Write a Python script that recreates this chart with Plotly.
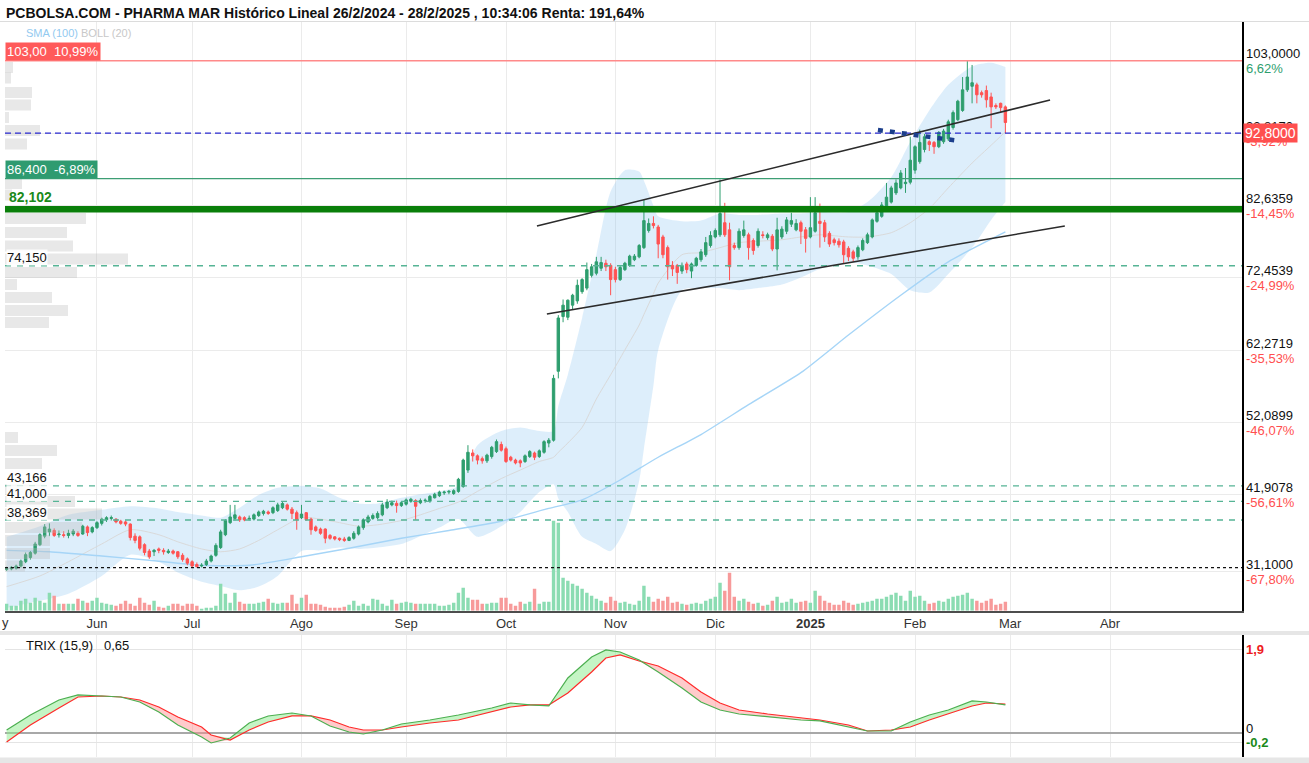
import plotly.graph_objects as go

W, H = 1309, 763

# ---------------- data (trading-day index: 0 = 3 Jun 2024) ----------------
day_index = list(range(-19, 192))

opens = [
    31.4, 31.5, 31.6, 31.9, 32.5, 33.1, 33.7, 34.9, 36.1, 36.7,
    36.9, 36.3, 36.3, 36.2, 36.4, 36.5, 36.4, 37.4, 36.7, 37.3,
    37.9, 38.4, 38.6, 38.5, 38.2, 38.1, 37.8, 36.1, 36.0, 34.9,
    34.0, 33.9, 34.3, 34.1, 33.8, 34.0, 33.9, 33.4, 32.9, 32.5,
    32.1, 31.9, 32.1, 32.6, 33.4, 34.5, 36.3, 38.0, 38.6, 38.8,
    38.7, 38.5, 38.5, 39.0, 39.3, 39.5, 39.4, 39.7, 40.1, 40.5,
    39.9, 39.4, 38.7, 39.4, 38.5, 37.4, 37.1, 37.1, 36.2, 36.0,
    35.8, 35.7, 35.5, 35.8, 36.4, 37.3, 38.1, 38.6, 38.7, 39.1,
    40.1, 40.5, 40.7, 40.4, 40.6, 41.0, 41.1, 40.8, 41.1, 41.0,
    41.5, 41.8, 42.2, 42.3, 42.1, 42.4, 43.1, 45.4, 47.8, 47.4,
    47.0, 46.7, 47.3, 48.0, 49.0, 48.4, 47.2, 46.8, 46.7, 46.6,
    47.3, 47.8, 47.3, 47.9, 49.2, 49.6, 59.3, 67.0, 66.9, 68.6,
    69.2, 70.5, 71.0, 72.8, 73.1, 73.8, 74.5, 74.2, 73.6, 72.2,
    73.6, 74.2, 75.0, 75.4, 76.7, 79.1, 80.1, 79.6, 78.2, 76.7,
    74.2, 74.2, 73.4, 74.4, 73.4, 74.2, 75.0, 75.7, 77.0, 78.2,
    78.5, 80.2, 79.2, 77.0, 76.7, 78.4, 78.5, 77.7, 77.0, 78.5,
    78.1, 78.3, 76.5, 78.2, 79.0, 80.0, 79.2, 80.2, 79.2, 78.2,
    79.0, 80.4, 80.2, 78.7, 77.8, 77.6, 77.5, 76.6, 76.1, 75.4,
    76.4, 77.4, 78.2, 80.4, 81.1, 82.1, 83.1, 84.4, 85.1, 85.7,
    85.9, 87.6, 88.8, 90.5, 91.6, 91.5, 90.9, 91.6, 92.0, 93.6,
    94.7, 96.0, 98.9, 99.4, 99.6, 98.5, 98.8, 97.9, 96.7, 97.0,
    96.5]

highs = [
    31.8, 31.9, 32.1, 32.8, 33.8, 34.0, 35.3, 36.5, 37.8, 37.9,
    37.2, 36.9, 36.8, 37.0, 37.1, 36.8, 37.7, 37.6, 37.5, 38.2,
    38.7, 38.9, 39.0, 38.6, 38.4, 38.3, 37.9, 36.5, 36.2, 35.1,
    34.3, 34.3, 34.5, 34.4, 34.3, 34.2, 34.0, 33.7, 33.1, 32.7,
    32.4, 32.3, 32.9, 33.5, 35.1, 37.0, 38.5, 40.5, 40.5, 39.0,
    38.9, 39.0, 39.3, 39.7, 39.8, 39.7, 40.3, 40.8, 40.9, 40.7,
    40.2, 39.7, 40.5, 39.5, 38.7, 37.6, 37.3, 37.2, 36.4, 36.1,
    35.9, 36.0, 36.1, 36.8, 37.6, 38.6, 39.1, 39.3, 39.6, 40.8,
    41.3, 41.1, 41.1, 41.0, 41.4, 41.5, 41.3, 41.4, 41.4, 41.9,
    42.2, 42.5, 42.5, 42.6, 42.7, 44.3, 47.0, 48.9, 48.3, 47.6,
    47.3, 47.7, 48.8, 49.7, 49.4, 48.7, 47.4, 47.0, 46.9, 47.6,
    48.2, 48.0, 48.3, 49.6, 49.9, 58.8, 67.2, 69.4, 69.4, 70.2,
    72.2, 72.4, 74.6, 74.4, 75.4, 75.4, 75.0, 74.5, 74.0, 74.2,
    74.7, 75.7, 75.8, 77.2, 83.4, 80.8, 81.1, 79.9, 78.5, 77.0,
    74.8, 74.4, 74.6, 74.7, 74.6, 75.4, 76.5, 78.2, 79.0, 79.4,
    86.3, 83.0, 80.2, 77.4, 79.4, 80.5, 78.8, 78.0, 79.4, 79.0,
    78.8, 78.6, 80.9, 79.7, 81.0, 81.6, 80.7, 80.5, 79.6, 83.8,
    83.8, 82.9, 80.6, 79.0, 78.1, 78.0, 77.8, 76.9, 76.4, 77.0,
    78.0, 78.8, 80.8, 82.0, 83.1, 85.8, 85.4, 86.3, 87.6, 87.9,
    92.3, 91.1, 93.3, 92.7, 91.8, 91.7, 93.1, 93.4, 94.7, 96.0,
    97.5, 100.7, 103.0, 102.4, 99.9, 98.8, 99.5, 98.5, 97.0, 97.1,
    96.7]

lows = [
    31.2, 31.3, 31.4, 31.7, 32.3, 32.8, 33.5, 34.7, 35.8, 36.1,
    36.0, 35.9, 35.9, 35.8, 36.1, 36.0, 36.3, 36.1, 36.5, 37.1,
    37.6, 38.1, 38.3, 37.9, 37.7, 37.5, 35.5, 35.1, 34.1, 33.4,
    32.9, 33.3, 33.7, 33.5, 33.6, 33.5, 32.9, 32.5, 32.0, 31.7,
    31.7, 31.7, 31.9, 32.4, 33.2, 34.3, 36.1, 37.8, 38.3, 38.1,
    38.2, 38.3, 38.3, 38.8, 39.0, 39.1, 39.2, 39.5, 39.9, 39.7,
    38.5, 37.0, 38.5, 38.3, 36.3, 36.7, 36.3, 35.1, 35.6, 35.5,
    35.4, 35.3, 35.4, 35.6, 36.2, 37.0, 37.9, 38.4, 38.5, 38.9,
    39.9, 40.3, 39.4, 40.2, 40.4, 40.8, 38.4, 40.6, 40.8, 40.8,
    41.4, 41.6, 41.9, 42.0, 41.9, 42.2, 42.9, 45.0, 46.6, 46.2,
    46.3, 46.4, 47.0, 47.8, 48.0, 46.4, 46.6, 46.2, 45.8, 46.4,
    47.1, 46.8, 47.1, 47.7, 48.6, 49.4, 58.3, 66.2, 66.5, 68.0,
    68.8, 70.2, 70.7, 72.5, 72.8, 73.4, 73.4, 70.0, 71.8, 72.0,
    73.4, 74.0, 74.8, 75.2, 76.5, 78.8, 79.4, 75.2, 75.2, 72.2,
    72.7, 71.6, 73.0, 73.1, 72.4, 74.0, 74.7, 75.4, 76.7, 78.0,
    78.2, 78.2, 72.1, 76.4, 76.4, 78.1, 75.0, 75.7, 76.7, 78.0,
    77.8, 76.2, 73.5, 77.9, 78.6, 79.6, 79.0, 77.2, 76.0, 78.0,
    78.8, 76.7, 77.5, 76.8, 77.0, 76.7, 74.4, 74.8, 74.7, 75.0,
    76.2, 77.2, 78.0, 80.2, 80.9, 81.9, 82.9, 84.1, 84.9, 84.4,
    85.6, 87.1, 88.5, 90.1, 90.3, 89.9, 90.7, 91.3, 91.7, 93.3,
    94.5, 95.8, 98.6, 97.0, 97.0, 97.8, 96.4, 93.5, 96.2, 95.8,
    92.8]

closes = [
    31.6, 31.7, 31.9, 32.6, 33.5, 33.8, 35.0, 36.3, 37.4, 37.1,
    36.2, 36.4, 36.2, 36.5, 36.8, 36.2, 37.5, 36.6, 37.3, 38.0,
    38.5, 38.7, 38.7, 38.1, 37.9, 37.8, 35.9, 35.5, 34.4, 33.8,
    33.2, 34.1, 34.1, 33.9, 34.0, 33.7, 33.2, 32.8, 32.3, 31.9,
    31.8, 32.0, 32.6, 33.3, 34.8, 36.7, 38.3, 38.8, 39.1, 38.4,
    38.4, 38.6, 39.1, 39.5, 39.6, 39.3, 40.1, 40.5, 40.7, 39.9,
    39.3, 38.4, 39.2, 38.4, 37.0, 36.9, 36.5, 35.8, 35.8, 35.7,
    35.6, 35.5, 35.9, 36.5, 37.4, 38.4, 38.8, 39.0, 39.3, 40.5,
    40.9, 40.8, 40.4, 40.8, 41.2, 41.3, 40.3, 41.1, 41.15, 41.7,
    42.0, 42.3, 42.3, 42.4, 42.5, 44.1, 46.8, 47.9, 47.4, 46.8,
    46.7, 47.5, 48.6, 49.4, 48.2, 46.6, 46.8, 46.4, 46.4, 47.4,
    48.0, 47.2, 48.1, 49.4, 49.6, 58.3, 66.8, 68.6, 69.3, 70.0,
    71.4, 72.2, 73.6, 74.0, 74.7, 74.6, 74.0, 72.2, 72.2, 73.9,
    74.5, 75.5, 75.5, 77.0, 80.5, 80.1, 79.8, 77.2, 75.7, 74.0,
    73.7, 73.2, 74.2, 73.6, 74.4, 75.2, 76.1, 77.4, 78.4, 79.1,
    81.5, 78.5, 74.0, 76.7, 79.0, 79.2, 76.7, 76.3, 79.0, 78.4,
    78.5, 76.5, 79.2, 79.3, 80.6, 80.5, 80.1, 79.0, 78.0, 79.5,
    81.6, 80.1, 78.2, 77.2, 77.4, 77.1, 75.7, 75.4, 75.2, 76.7,
    77.7, 78.5, 80.6, 81.6, 82.7, 83.8, 85.1, 85.8, 87.2, 85.9,
    89.0, 90.9, 91.5, 92.3, 91.2, 90.9, 92.9, 93.1, 94.4, 95.7,
    97.3, 98.9, 100.7, 99.9, 98.2, 98.2, 97.5, 96.5, 96.5, 96.4,
    94.3]

volumes = [
    7, 5, 5, 10, 12, 8, 13, 10, 8, 18,
    15, 7, 7, 7, 7, 12, 10, 8, 10, 13,
    8, 7, 6, 5, 7, 10, 7, 5, 13, 8,
    6, 10, 4, 3, 5, 7, 7, 5, 7, 7,
    5, 2, 3, 3, 5, 27, 17, 8, 18, 9,
    7, 7, 7, 8, 9, 12, 8, 7, 8, 8,
    16, 7, 13, 16, 7, 7, 6, 4, 3, 3,
    3, 4, 6, 10, 5, 7, 5, 12, 11, 7,
    5, 11, 7, 8, 9, 8, 7, 7, 7, 7,
    7, 5, 5, 6, 8, 18, 23, 13, 11, 11,
    7, 7, 8, 8, 13, 13, 7, 5, 9, 7,
    9, 22, 7, 9, 9, 90, 88, 33, 30, 27,
    25, 22, 18, 15, 12, 10, 8, 14, 10, 8,
    9, 7, 6, 10, 25, 14, 9, 12, 10, 14,
    8, 9, 7, 6, 7, 8, 7, 10, 12, 14,
    28, 20, 38, 14, 10, 12, 9, 7, 8, 5,
    6, 10, 14, 8, 9, 12, 8, 9, 10, 8,
    20, 15, 10, 8, 6, 6, 10, 8, 6, 7,
    8, 9, 10, 12, 12, 14, 16, 18, 15, 10,
    20, 14, 15, 10, 7, 8, 10, 9, 12, 14,
    15, 16, 18, 12, 10, 8, 10, 12, 6, 7,
    9]

month_idx = [0, 20, 43, 65, 86, 109, 130, 150, 172, 192, 213]
month_lbl = ["Jun", "Jul", "Ago", "Sep", "Oct", "Nov", "Dic", "<b>2025</b>", "Feb", "Mar", "Abr"]

sma_idx = [-19, -10, 1, 11, 22, 32, 43, 53, 64, 74, 85, 95, 102, 110, 118, 127, 137, 148, 158, 169, 179, 191]
sma100 = [34.1, 33.9, 33.3, 32.7, 32.0, 32.0, 33.2, 34.4, 35.8, 36.9, 38.2, 40.0, 41.2, 44.0,
          47.2, 50.4, 54.6, 59.1, 64.4, 70.0, 74.7, 78.9]

boll_idx = [-19, -12, -6, 1, 7, 13, 17, 22, 26, 30, 34, 38, 43, 47, 51, 55, 59, 64, 68, 72, 76,
            80, 85, 89, 93, 96, 97, 99, 102, 105, 108, 111, 114, 115, 117, 118, 123, 127, 131,
            135, 139, 144, 148, 152, 158, 162, 167, 171, 175, 179, 184, 188, 191]
boll_up = [36.0, 37.5, 39.1, 39.8, 40.3, 40.0, 39.5, 39.0, 38.7, 40.1, 41.9, 42.9, 43.2, 42.8,
           41.5, 40.7, 40.7, 41.5, 42.0, 42.4, 43.2, 48.9, 50.9, 51.4, 50.9, 50.9, 54.4, 58.8,
           66.8, 75.7, 84.6, 87.6, 87.4, 86.1, 82.6, 81.1, 80.4, 80.5, 81.5, 81.3, 81.3, 81.5,
           81.5, 81.7, 81.7, 83.1, 86.6, 91.6, 96.0, 99.6, 102.2, 102.7, 102.1]
boll_mid = [29.0, 30.5, 32.5, 35.0, 37.0, 36.3, 35.3, 34.3, 33.9, 34.3, 35.5, 37.0, 38.7, 38.5,
            38.0, 37.5, 37.7, 38.3, 39.1, 40.0, 40.9, 42.4, 44.2, 45.4, 46.6, 47.2, 47.9, 49.2,
            51.4, 55.4, 58.8, 62.3, 65.8, 67.3, 70.2, 71.7, 75.7, 76.0, 76.7, 77.4, 77.6, 77.8,
            78.2, 78.5, 78.2, 78.2, 78.8, 80.2, 82.2, 85.1, 88.6, 91.1, 93.0]
boll_lo = [26.0, 27.0, 28.0, 30.5, 33.5, 32.5, 31.0, 29.7, 29.1, 28.5, 29.0, 30.5, 34.0, 34.1,
           34.5, 34.3, 34.5, 35.0, 36.1, 37.3, 38.5, 36.0, 37.5, 39.5, 42.3, 43.4, 41.4, 39.5,
           36.0, 35.0, 34.0, 37.0, 43.9, 48.4, 57.3, 62.3, 70.7, 71.0, 71.0, 70.7, 71.0, 71.5,
           72.5, 73.7, 74.6, 74.2, 73.0, 70.7, 70.4, 73.0, 76.7, 80.6, 83.1]

trix_idx = [-19, -14, -8, -4, 1, 5, 9, 13, 17, 22, 24, 28, 32, 36, 41, 45, 49, 53, 56, 60, 64,
            70, 76, 83, 87, 91, 95, 99, 104, 107, 110, 114, 118, 123, 127, 131, 135, 141, 148,
            152, 158, 162, 167, 171, 175, 179, 184, 187, 191]
trix = [0.075, 0.417, 0.760, 0.874, 0.851, 0.828, 0.714, 0.486, 0.189, -0.084, -0.221, -0.107,
        0.235, 0.395, 0.463, 0.395, 0.167, 0.030, -0.016, 0.075, 0.212, 0.303, 0.417, 0.577,
        0.691, 0.646, 0.623, 1.261, 1.740, 1.900, 1.854, 1.672, 1.398, 1.033, 0.714, 0.531,
        0.440, 0.372, 0.303, 0.281, 0.144, 0.052, 0.052, 0.257, 0.417, 0.531, 0.737, 0.714, 0.650]
trix_signal = [-0.198, 0.189, 0.577, 0.828, 0.851, 0.828, 0.760, 0.600, 0.372, 0.144, -0.039,
               -0.153, 0.075, 0.258, 0.395, 0.395, 0.303, 0.144, 0.075, 0.075, 0.144, 0.235,
               0.303, 0.486, 0.600, 0.646, 0.646, 0.919, 1.398, 1.718, 1.786, 1.649, 1.535,
               1.261, 0.942, 0.691, 0.531, 0.440, 0.349, 0.303, 0.189, 0.052, 0.075, 0.144,
               0.303, 0.440, 0.623, 0.691, 0.668]

vp_price = [102.04, 100.57, 98.53, 96.77, 95.01, 93.18, 91.28, 85.72, 84.10, 80.80, 78.83,
            76.93, 75.10, 73.20, 71.51, 69.68, 67.85, 66.16, 49.98, 48.15, 46.32, 42.67,
            40.98, 39.22, 37.32, 35.49, 33.66, 31.90]
vp_volume = [8, 6, 27, 26, 4, 35, 22, 17, 7, 81, 62, 68, 123, 72, 12, 47, 63, 44, 13, 52, 37,
             40, 70, 97, 77, 45, 45, 20]

level_red = 103.0
level_last = 92.8
level_green = 86.4
level_support = 82.102
level_dashed = [74.15, 43.166, 41.0, 38.369]
level_dashed_txt = ["74,150", "43,166", "41,000", "38,369"]
level_min = 31.66

channel_a = ([92.5, 200.4], [79.74, 97.47])
channel_b = ([94.6, 203.5], [67.36, 79.74])
blue_seg = ([164.2, 181.5], [93.25, 91.70])

axis_vals = [103.0, 92.8179, 82.6359, 72.4539, 62.2719, 52.0899, 41.9078, 31.1]
axis_txt = ["103,0000", "92,8170", "82,6359", "72,4539", "62,2719", "52,0899", "41,9078", "31,1000"]
axis_pct = ["6,62%", "-3,92%", "-14,45%", "-24,99%", "-35,53%", "-46,07%", "-56,61%", "-67,80%"]

# ---------------- layout helpers ----------------
def fx(px):
    return px / W


def fy(py):
    return 1 - py / H


X_RANGE = [-19.34, 240.75]
Y_RANGE = [25.61, 108.445]
T_RANGE = [-0.541, 2.242]
XDOM = [fx(5), fx(1242)]
YDOM = [fy(610.7), fy(22)]
TDOM = [fy(757), fy(635)]

GREEN = "#2e9e6e"
RED = "#ff5252"
FONT = "Liberation Sans, Arial, sans-serif"
NARROW = "Liberation Sans Narrow, Arial Narrow, Liberation Sans, sans-serif"

fig = go.Figure()

# Bollinger band + averages (base subplot)
fig.add_trace(go.Scatter(x=boll_idx, y=boll_up, mode="lines", hoverinfo="skip",
                         line=dict(width=0, shape="spline", smoothing=0.7), xaxis="x", yaxis="y"))
fig.add_trace(go.Scatter(x=boll_idx, y=boll_lo, mode="lines", hoverinfo="skip", fill="tonexty",
                         fillcolor="rgba(125,190,240,0.26)",
                         line=dict(width=0, shape="spline", smoothing=0.7), xaxis="x", yaxis="y"))
fig.add_trace(go.Scatter(x=boll_idx, y=boll_mid, mode="lines", hoverinfo="skip",
                         line=dict(width=1, color="#d9d9d9", shape="spline", smoothing=0.7),
                         xaxis="x", yaxis="y"))
fig.add_trace(go.Scatter(x=sma_idx, y=sma100, mode="lines", hoverinfo="skip",
                         line=dict(width=1.4, color="#a6d5f7", shape="spline", smoothing=0.6),
                         xaxis="x", yaxis="y"))

# volume
vol_colors = ["#8bdcb2" if c > o else "#f79a9a" for o, c in zip(opens, closes)]
fig.add_trace(go.Bar(x=day_index, y=volumes, marker=dict(color=vol_colors, line=dict(width=0)),
                     width=0.72, xaxis="x", yaxis="y2", hoverinfo="skip"))

# candles
fig.add_trace(go.Candlestick(x=day_index, open=opens, high=highs, low=lows, close=closes,
                             increasing=dict(line=dict(color=GREEN, width=1), fillcolor=GREEN),
                             decreasing=dict(line=dict(color=RED, width=1), fillcolor=RED),
                             whiskerwidth=0, xaxis="x", yaxis="y3", hoverinfo="skip"))

# volume profile
fig.add_trace(go.Bar(y=vp_price, x=vp_volume, orientation="h", width=1.55,
                     marker=dict(color="rgba(185,185,185,0.33)", line=dict(width=0)),
                     xaxis="x3", yaxis="y", hoverinfo="skip"))

# TRIX
tr_up = [max(a, b) for a, b in zip(trix, trix_signal)]
tr_dn = [min(a, b) for a, b in zip(trix, trix_signal)]
fig.add_trace(go.Scatter(x=trix_idx, y=trix_signal, mode="lines", line=dict(width=0),
                         xaxis="x2", yaxis="y4", hoverinfo="skip"))
fig.add_trace(go.Scatter(x=trix_idx, y=tr_up, mode="lines", line=dict(width=0), fill="tonexty",
                         fillcolor="rgba(140,235,140,0.5)", xaxis="x2", yaxis="y4", hoverinfo="skip"))
fig.add_trace(go.Scatter(x=trix_idx, y=trix_signal, mode="lines", line=dict(width=0),
                         xaxis="x2", yaxis="y4", hoverinfo="skip"))
fig.add_trace(go.Scatter(x=trix_idx, y=tr_dn, mode="lines", line=dict(width=0), fill="tonexty",
                         fillcolor="rgba(255,140,140,0.45)", xaxis="x2", yaxis="y4", hoverinfo="skip"))
fig.add_trace(go.Scatter(x=trix_idx, y=trix_signal, mode="lines", line=dict(width=1.2, color="#ff2a2a"),
                         xaxis="x2", yaxis="y4", hoverinfo="skip"))
fig.add_trace(go.Scatter(x=trix_idx, y=trix, mode="lines", line=dict(width=1.2, color="#4caf50"),
                         xaxis="x2", yaxis="y4", hoverinfo="skip"))

# ---------------- shapes ----------------
shapes = []


def hline(v, color, width, dash="solid"):
    return dict(type="line", xref="x domain", x0=0, x1=1, yref="y", y0=v, y1=v,
                line=dict(color=color, width=width, dash=dash), layer="above")


shapes.append(hline(level_red, "#ff8a8a", 1.5))
shapes.append(hline(level_last, "#2a2ad0", 1.2, "6px,4px"))
shapes.append(hline(level_green, "#3d9e74", 1.2))
shapes.append(hline(level_support, "#0a7f0a", 6.5))
for v in level_dashed:
    shapes.append(hline(v, "#56b495", 1.3, "6px,6px"))
shapes.append(hline(level_min, "#111111", 1.2, "dot"))

for (xs, ys) in (channel_a, channel_b):
    shapes.append(dict(type="line", xref="x", yref="y", x0=xs[0], x1=xs[1], y0=ys[0], y1=ys[1],
                       line=dict(color="#2b2b2b", width=1.6), layer="above"))
shapes.append(dict(type="line", xref="x", yref="y", x0=blue_seg[0][0], x1=blue_seg[0][1],
                   y0=blue_seg[1][0], y1=blue_seg[1][1],
                   line=dict(color="#1c3f8c", width=4.5, dash="5px,7px"), layer="above"))

# panel separators
shapes.append(dict(type="line", xref="paper", yref="paper", x0=0, x1=1, y0=fy(21.5), y1=fy(21.5),
                   line=dict(color="#dcdcdc", width=1)))
shapes.append(dict(type="rect", xref="paper", yref="paper", x0=0, x1=1, y0=fy(635), y1=fy(631),
                   fillcolor="#e6e6e6", line=dict(width=0)))
shapes.append(dict(type="rect", xref="paper", yref="paper", x0=0, x1=1, y0=fy(763), y1=fy(757.5),
                   fillcolor="#e6e6e6", line=dict(width=0)))

# ---------------- annotations ----------------
ann = []
ann.append(dict(text="<b>PCBOLSA.COM - PHARMA MAR Histórico Lineal 26/2/2024 - 28/2/2025 , 10:34:06 Renta: 191,64%</b>",
                xref="paper", yref="paper", x=fx(4), y=fy(13), xanchor="left", yanchor="middle",
                showarrow=False, font=dict(family=FONT, size=14, color="#111")))
ann.append(dict(text="SMA (100)", xref="paper", yref="paper", x=fx(24), y=fy(33), xanchor="left",
                yanchor="middle", showarrow=False, font=dict(family=FONT, size=11, color="#93caf0")))
ann.append(dict(text="BOLL (20)", xref="paper", yref="paper", x=fx(79), y=fy(33), xanchor="left",
                yanchor="middle", showarrow=False, font=dict(family=FONT, size=11, color="#c8c8c8")))

ann.append(dict(text="103,00\u00a0\u00a010,99%", xref="paper", yref="y", x=fx(5), y=level_red,
                xanchor="left", yanchor="bottom", showarrow=False, bgcolor="#ff5a5a", borderpad=1,
                font=dict(family=FONT, size=13, color="white")))
ann.append(dict(text="86,400\u00a0\u00a0-6,89%", xref="paper", yref="y", x=fx(5), y=level_green,
                xanchor="left", yanchor="bottom", showarrow=False, bgcolor="#2f9b70", borderpad=1,
                font=dict(family=FONT, size=13, color="white")))
ann.append(dict(text="<b>82,102</b>", xref="paper", yref="y", x=fx(7), y=level_support, yshift=2,
                xanchor="left", yanchor="bottom", showarrow=False,
                font=dict(family=FONT, size=14, color="#1a8a1a")))
for v, t in zip(level_dashed, level_dashed_txt):
    ann.append(dict(text=t, xref="paper", yref="y", x=fx(6), y=v, yshift=8, xanchor="left",
                    yanchor="middle", showarrow=False, bgcolor="rgba(255,255,255,0.85)", borderpad=0,
                    font=dict(family=FONT, size=13, color="#111")))

for v, t, p in zip(axis_vals, axis_txt, axis_pct):
    ann.append(dict(text=t, xref="paper", yref="y", x=fx(1244), y=v, yshift=7, xanchor="left",
                    yanchor="middle", showarrow=False, font=dict(family=FONT, size=13, color="#111")))
    ann.append(dict(text=p, xref="paper", yref="y", x=fx(1244), y=v, yshift=-8, xanchor="left",
                    yanchor="middle", showarrow=False,
                    font=dict(family=FONT, size=13, color="#2e9e6e" if not p.startswith("-") else "#ff4f4f")))
ann.append(dict(text="92,8000", xref="paper", yref="y", x=fx(1243), y=level_last, xanchor="left",
                yanchor="middle", showarrow=False, bgcolor="#ff4f4f", borderpad=1,
                font=dict(family=FONT, size=14, color="white")))

ann.append(dict(text="y", xref="paper", yref="paper", x=fx(0), y=fy(622), xanchor="left",
                yanchor="middle", showarrow=False, font=dict(family=NARROW, size=13, color="#333")))

ann.append(dict(text="TRIX (15,9)\u00a0\u00a0 0,65", xref="paper", yref="paper", x=fx(24), y=fy(645),
                xanchor="left", yanchor="middle", showarrow=False,
                font=dict(family=NARROW, size=13, color="#111")))
ann.append(dict(text="<b>1,9</b>", xref="paper", yref="y4", x=fx(1244), y=1.9, xanchor="left",
                yanchor="middle", showarrow=False, font=dict(family=FONT, size=13, color="#ee1c1c")))
ann.append(dict(text="0", xref="paper", yref="y4", x=fx(1244), y=0, yshift=5, xanchor="left",
                yanchor="middle", showarrow=False, font=dict(family=FONT, size=13, color="#111")))
ann.append(dict(text="<b>-0,2</b>", xref="paper", yref="y4", x=fx(1244), y=-0.2, xanchor="left",
                yanchor="middle", showarrow=False, font=dict(family=FONT, size=13, color="#1a8a1a")))

fig.update_layout(
    width=W, height=H, margin=dict(l=0, r=0, t=0, b=0),
    paper_bgcolor="white", plot_bgcolor="white", showlegend=False, hovermode=False,
    font=dict(family=FONT), boxgap=0.28,
    xaxis=dict(domain=XDOM, range=X_RANGE, anchor="y", tickmode="array", tickvals=month_idx,
               ticktext=month_lbl, showgrid=True, gridcolor="#ebebeb", zeroline=False,
               showline=True, linecolor="#4d4d4d", linewidth=2, ticks="",
               tickfont=dict(family=NARROW, size=13, color="#333"),
               rangeslider=dict(visible=False), fixedrange=True),
    yaxis=dict(domain=YDOM, range=Y_RANGE, anchor="x", side="right", tickmode="array",
               tickvals=axis_vals, showticklabels=False, showgrid=True, gridcolor="#ebebeb",
               zeroline=False, showline=True, linecolor="black", linewidth=1.5, ticks="",
               fixedrange=True),
    yaxis2=dict(overlaying="y", anchor="x", range=[0, 588.7], visible=False, fixedrange=True),
    yaxis3=dict(overlaying="y", anchor="x", range=Y_RANGE, visible=False, fixedrange=True),
    xaxis3=dict(overlaying="x", anchor="y", range=[0, 1237], visible=False, fixedrange=True),
    xaxis2=dict(domain=XDOM, range=X_RANGE, anchor="y4", tickmode="array", tickvals=month_idx,
                showticklabels=False, showgrid=True, gridcolor="#ebebeb", zeroline=False,
                showline=False, ticks="", fixedrange=True),
    yaxis4=dict(domain=TDOM, range=T_RANGE, anchor="x2", side="right", tickmode="array",
                tickvals=[1.9, -0.2], showticklabels=False, showgrid=True, gridcolor="#e4e4e4",
                zeroline=True, zerolinecolor="#a8a8a8", zerolinewidth=1.5, showline=True,
                linecolor="black", linewidth=1.5, ticks="", fixedrange=True),
    shapes=shapes, annotations=ann,
)

fig.write_html("out.html")
